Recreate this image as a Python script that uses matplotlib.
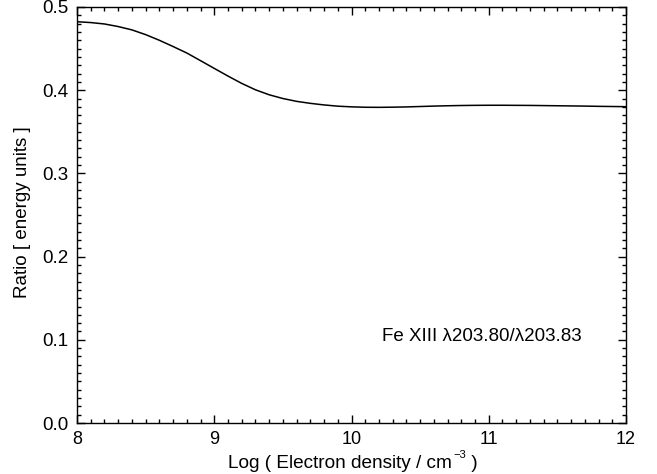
import matplotlib
matplotlib.use("Agg")
import matplotlib.pyplot as plt
from matplotlib.ticker import MultipleLocator
from matplotlib.transforms import IdentityTransform

plt.rcParams['font.family'] = ['Liberation Sans', 'DejaVu Sans']

log_density = [8.0, 8.1, 8.2, 8.3, 8.4, 8.5, 8.6, 8.7, 8.8, 8.9,
               9.0, 9.1, 9.2, 9.3, 9.4, 9.5, 9.6, 9.7, 9.8, 9.9,
               10.0, 10.1, 10.2, 10.3, 10.4, 10.5, 10.6, 10.7, 10.8, 10.9,
               11.0, 11.1, 11.2, 11.3, 11.4, 11.5, 11.6, 11.7, 11.8, 11.9, 12.0]
ratio = [0.4823, 0.4813, 0.4796, 0.4765, 0.4725, 0.4668, 0.4600, 0.4525, 0.4447, 0.4355,
         0.4262, 0.4170, 0.4082, 0.4005, 0.3945, 0.3900, 0.3866, 0.3842, 0.3823, 0.3808,
         0.3800, 0.3795, 0.3794, 0.3796, 0.3799, 0.3804, 0.3809, 0.3813, 0.3816, 0.3818,
         0.3819, 0.3819, 0.3818, 0.3817, 0.3815, 0.3813, 0.3811, 0.3809, 0.3806, 0.3804, 0.3802]
x_ticks = [8, 9, 10, 11, 12]
y_ticks = [0.0, 0.1, 0.2, 0.3, 0.4, 0.5]
y_tick_labels = ["0.0", "0.1", "0.2", "0.3", "0.4", "0.5"]
annotation = "Fe XIII \u03bb203.80/\u03bb203.83"
x_label_parts = ["Log ( Electron density / cm", "\u22123", " )"]
y_label = "Ratio [ energy units ]"

fig = plt.figure(figsize=(6.57, 4.74), dpi=100)
W, H = 657, 474
left, right, top, bottom = 77, 626, 7, 423
ax = fig.add_axes([left / W, 1 - bottom / H, (right - left) / W, (bottom - top) / H])

ax.plot(log_density, ratio, color='black', lw=1.1)
ax.set_xlim(8, 12)
ax.set_ylim(0, 0.5)
ax.set_xticks(x_ticks)
ax.set_xticklabels([str(t) for t in x_ticks])
ax.set_yticks(y_ticks)
ax.set_yticklabels(y_tick_labels)
ax.xaxis.set_minor_locator(MultipleLocator(0.1))
ax.yaxis.set_minor_locator(MultipleLocator(0.01))
ax.tick_params(which='both', direction='in', top=True, right=True,
               labelsize=13.5, width=1.0, color='black')
ax.tick_params(which='major', length=5.5)
ax.tick_params(which='minor', length=3)
ax.tick_params(axis='x', which='major', pad=6.0, labelsize=13)
ax.tick_params(axis='y', which='major', pad=6)
for s in ax.spines.values():
    s.set_linewidth(1.0)

# x label built from pieces (main text + superscript + closing paren)
renderer = fig.canvas.get_renderer()
ident = IdentityTransform()
sizes = [13.7, 8, 13.7]
baselines = [H - 468.5, H - 457.5, H - 468.5]
texts = [fig.text(0, b, s, fontsize=fs, ha='left', va='baseline', transform=ident)
         for s, fs, b in zip(x_label_parts, sizes, baselines)]
widths = [t.get_window_extent(renderer).width for t in texts]
x0 = 353 - (sum(widths) + 1) / 2
texts[0].set_x(x0)
texts[1].set_x(x0 + widths[0] + 1)
texts[2].set_x(x0 + widths[0] + 1 + widths[1])

fig.text(23 / W, 1 - 212 / H, y_label, fontsize=13.5, rotation=90,
         ha='center', va='center')
ax.text(10.22, 0.0986, annotation, fontsize=13.5, ha='left', va='baseline')

fig.savefig("out.png", dpi=100)
